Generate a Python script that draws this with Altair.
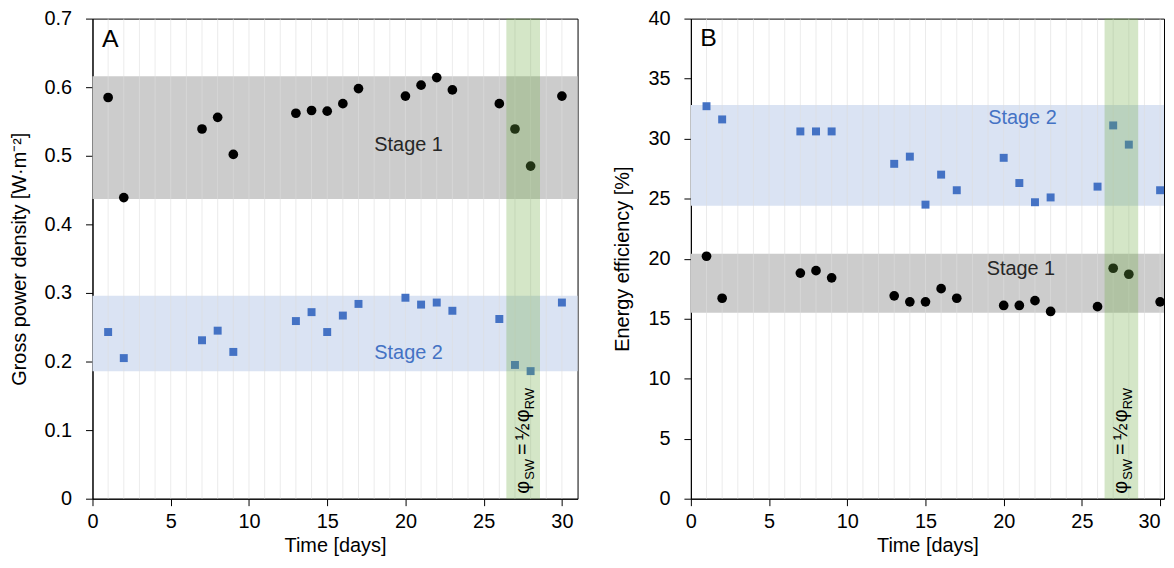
import altair as alt
import pandas as pd

FONT = "Liberation Sans"
BLUE = "#4472c4"

days = [1, 2, 7, 8, 9, 13, 14, 15, 16, 17, 20, 21, 22, 23, 26, 27, 28, 30]
power_stage1 = [0.585, 0.439, 0.539, 0.556, 0.502, 0.562, 0.566, 0.565, 0.576, 0.598,
                0.587, 0.603, 0.614, 0.596, 0.576, 0.539, 0.485, 0.587]
power_stage2 = [0.243, 0.205, 0.231, 0.245, 0.214, 0.259, 0.272, 0.243, 0.267, 0.284,
                0.293, 0.283, 0.286, 0.274, 0.262, 0.195, 0.186, 0.286]
eff_stage1 = [20.2, 16.7, 18.8, 19.0, 18.4, 16.9, 16.4, 16.4, 17.5, 16.7,
              16.1, 16.1, 16.5, 15.6, 16.0, 19.2, 18.7, 16.4]
eff_stage2 = [32.7, 31.6, 30.6, 30.6, 30.6, 27.9, 28.5, 24.5, 27.0, 25.7,
              28.4, 26.3, 24.7, 25.1, 26.0, 31.1, 29.5, 25.7]

grid_days = list(range(1, 31))

# stage bands: [low, high]
power_band_stage1 = [0.437, 0.616]
power_band_stage2 = [0.186, 0.296]
eff_band_stage1 = [15.5, 20.4]
eff_band_stage2 = [24.4, 32.8]

switch_window = [26.45, 28.6]   # green band (days)

x_ticks = [0, 5, 10, 15, 20, 25, 30]
power_ticks = [0, 0.1, 0.2, 0.3, 0.4, 0.5, 0.6, 0.7]
eff_ticks = [0, 5, 10, 15, 20, 25, 30, 35, 40]

annotation_pieces = ["φ", "SW", "=", "½", "φ", "RW"]


def panel(s1, s2, band1, band2, ymax, yticks, yfmt, ytitle, xmax, width,
          stage1_pos, stage2_pos, letter, letter_pos, last_right=False):
    xs = alt.Scale(domain=[0, xmax], nice=False, zero=False)
    ys = alt.Scale(domain=[0, ymax], nice=False, zero=False)
    xaxis_kw = dict(values=x_ticks, title="Time [days]", grid=False, labelFlush=False,
                    labelOverlap=False, labelPadding=6, titlePadding=4)
    if last_right:
        xaxis_kw["labelAlign"] = {"condition": {"test": "datum.value == 30", "value": "right"},
                                  "value": "center"}
    xaxis = alt.Axis(**xaxis_kw)
    yaxis = alt.Axis(values=yticks, format=yfmt, title=ytitle, grid=False,
                     labelPadding=14, titlePadding=15, labelOverlap=False)

    def X(f):
        return alt.X(f, type="quantitative", scale=xs, axis=xaxis)

    def Y(f):
        return alt.Y(f, type="quantitative", scale=ys, axis=yaxis)

    bands = pd.DataFrame({
        "x0": [0, 0], "x1": [xmax, xmax],
        "lo": [band1[0], band2[0]], "hi": [band1[1], band2[1]],
        "col": ["#cccccc", "#dae3f3"],
    })
    band_layer = alt.Chart(bands).mark_rect().encode(
        x=X("x0"), x2="x1", y=Y("lo"), y2="hi",
        color=alt.Color("col:N", scale=None),
    )
    grid = alt.Chart(pd.DataFrame({"d": grid_days})).mark_rule(
        color="#dedede", opacity=0.6, strokeWidth=1
    ).encode(x=X("d"))

    df = pd.DataFrame({"day": days, "s1": s1, "s2": s2})
    circles = alt.Chart(df).mark_circle(size=95, color="black", opacity=1).encode(
        x=X("day"), y=Y("s1"))
    squares = alt.Chart(df).mark_square(size=64, color=BLUE, opacity=1).encode(
        x=X("day"), y=Y("s2"))

    green = alt.Chart(pd.DataFrame({"a": [switch_window[0]], "b": [switch_window[1]]})).mark_rect(
        color="#70ad47", opacity=0.3).encode(x=X("a"), x2="b")

    labels = pd.DataFrame({
        "x": [stage1_pos[0], stage2_pos[0]],
        "y": [stage1_pos[1], stage2_pos[1]],
        "t": ["Stage 1", "Stage 2"],
        "c": ["#262626", BLUE],
    })
    stage_text = alt.Chart(labels).mark_text(
        font=FONT, fontSize=20, align="center", baseline="middle"
    ).encode(x=X("x"), y=Y("y"), text="t:N", color=alt.Color("c:N", scale=None))

    letter_text = alt.Chart(pd.DataFrame({"x": [letter_pos[0]], "y": [letter_pos[1]], "t": [letter]})).mark_text(
        font=FONT, fontSize=25, align="left", baseline="alphabetic", color="black"
    ).encode(x=X("x"), y=Y("y"), text="t:N")

    # rotated annotation phi_SW = 1/2 phi_RW
    anno_df = pd.DataFrame({"x": [27.9], "y": [0]})
    offsets = [5, 19, 44, 59, 77, 90]
    sizes = [20, 13, 20, 20, 20, 13]
    drops = [0, 5, 0, 0, 0, 5]
    anno_layers = []
    for txt, dx, fs, dy in zip(annotation_pieces, offsets, sizes, drops):
        anno_layers.append(
            alt.Chart(anno_df).mark_text(
                font=FONT, fontSize=fs, angle=270, align="left", baseline="alphabetic",
                dx=dx, dy=dy, color="black"
            ).encode(x=X("x"), y=Y("y"), text=alt.value(txt))
        )

    return alt.layer(band_layer, grid, circles, squares, green, stage_text, letter_text,
                     *anno_layers).properties(width=width, height=483)


left = panel(power_stage1, power_stage2, power_band_stage1, power_band_stage2, 0.7,
             power_ticks, ".1~f", "Gross power density [W·m⁻²]", 31, 488,
             (20.2, 0.516), (20.2, 0.212), "A", (0.6, 0.659))
right = panel(eff_stage1, eff_stage2, eff_band_stage1, eff_band_stage2, 40,
              eff_ticks, "d", "Energy efficiency [%]", 30.25, 476,
              (21.1, 19.1), (21.2, 31.7), "B", (0.6, 37.7), last_right=True)

chart = alt.hconcat(left, right, spacing=34).properties(
    padding={"left": 0, "top": -2, "right": 0, "bottom": 0}
).configure_view(stroke="black", strokeWidth=1).configure_axis(
    labelFont=FONT, titleFont=FONT, labelFontSize=20, titleFontSize=20,
    titleFontWeight="normal", labelColor="black", titleColor="black",
    tickColor="black", domainColor="black", tickSize=7, domainWidth=1, tickWidth=1,
)

chart.save("out.html", embed_options={"renderer": "svg", "actions": False})
